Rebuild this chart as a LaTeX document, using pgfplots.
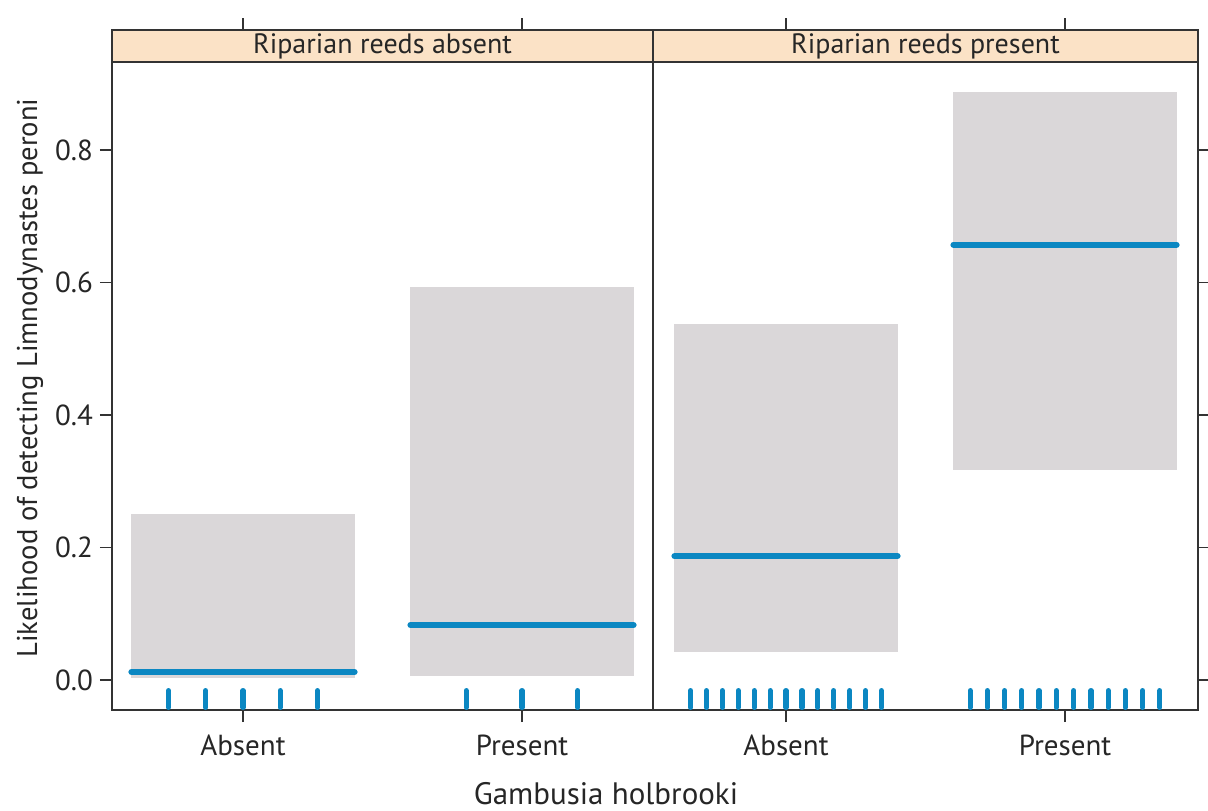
\documentclass[border=0pt]{standalone}
\usepackage{fontspec}
\setmainfont{PT Sans}
\usepackage{pgfplots}
\pgfplotsset{compat=1.18}
\definecolor{boxgray}{HTML}{DAD7D9}
\definecolor{stripc}{HTML}{FBE2C6}
\definecolor{blu}{HTML}{0B87C2}
\definecolor{axc}{HTML}{333333}

\pgfplotsset{
  panel/.style={
    scale only axis, height=324pt,
    ymin=-0.0453, ymax=0.9328,
    xtick={1,2}, xticklabels={Absent,Present},
    ytick={0,0.2,0.4,0.6,0.8},
    yticklabels={0.0,0.2,0.4,0.6,0.8},
    tick align=outside, major tick length=6pt,
    xtick pos=lower,
    axis line style={line width=0.7pt, color=axc},
    tick style={line width=0.6pt, color=axc},
    clip=false,
    ticklabel style={font=\fontsize{14.5}{16}\selectfont, text=black!85},
    xticklabel style={yshift=-3pt},
    /pgf/number format/assume math mode=true,
  },
  meanline/.style={blu, line width=3pt, line cap=round},
  rug/.style={only marks, mark=|, mark size=4.2pt, blu,
    mark options={line width=2.6pt, line cap=round}},
  box/.style={fill=boxgray, draw=none},
}

\begin{document}
\begin{tikzpicture}
\useasboundingbox (0,0) rectangle (604pt,405pt);

% Panel 1: Riparian reeds absent
\begin{axis}[panel, width=270.5pt, at={(56pt,50pt)}, anchor=south west,
  xmin=0.5305, xmax=2.4695, ytick pos=left]
  \addplot[box] coordinates {(0.6,0.003) (1.4,0.003) (1.4,0.250) (0.6,0.250)} -- cycle;
  \addplot[box] coordinates {(1.6,0.006) (2.4,0.006) (2.4,0.593) (1.6,0.593)} -- cycle;
  \addplot[meanline] coordinates {(0.6,0.012) (1.4,0.012)};
  \addplot[meanline] coordinates {(1.6,0.083) (2.4,0.083)};
  \addplot[rug] coordinates {(0.733,-0.0287) (0.866,-0.0287) (1.0,-0.0287) (1.133,-0.0287) (1.267,-0.0287)};
  \addplot[rug] coordinates {(1.8,-0.0287) (2.0,-0.0287) (2.2,-0.0287)};
  \draw[fill=stripc, line width=0.7pt, draw=axc] (rel axis cs:0,1) rectangle ([yshift=16pt]rel axis cs:1,1);
  \node[font=\fontsize{14}{16}\selectfont, text=black!85] at ([yshift=8pt]rel axis cs:0.5,1) {Riparian reeds absent};
  \draw[line width=0.6pt, axc] ([yshift=16pt]axis cs:1,0.9328) -- ([yshift=22pt]axis cs:1,0.9328);
  \draw[line width=0.6pt, axc] ([yshift=16pt]axis cs:2,0.9328) -- ([yshift=22pt]axis cs:2,0.9328);
\end{axis}

% Panel 2: Riparian reeds present
\begin{axis}[panel, width=272.5pt, at={(326.5pt,50pt)}, anchor=south west,
  xmin=0.5233, xmax=2.4767, ytick pos=right, yticklabels={}]
  \addplot[box] coordinates {(0.6,0.043) (1.4,0.043) (1.4,0.537) (0.6,0.537)} -- cycle;
  \addplot[box] coordinates {(1.6,0.317) (2.4,0.317) (2.4,0.8875) (1.6,0.8875)} -- cycle;
  \addplot[meanline] coordinates {(0.6,0.187) (1.4,0.187)};
  \addplot[meanline] coordinates {(1.6,0.657) (2.4,0.657)};
  \addplot[rug] coordinates {(0.658,-0.0287) (0.715,-0.0287) (0.772,-0.0287) (0.829,-0.0287) (0.886,-0.0287) (0.943,-0.0287) (1.0,-0.0287) (1.057,-0.0287) (1.114,-0.0287) (1.171,-0.0287) (1.228,-0.0287) (1.285,-0.0287) (1.342,-0.0287)};
  \addplot[rug] coordinates {(1.660,-0.0287) (1.722,-0.0287) (1.784,-0.0287) (1.845,-0.0287) (1.907,-0.0287) (1.969,-0.0287) (2.031,-0.0287) (2.093,-0.0287) (2.155,-0.0287) (2.216,-0.0287) (2.278,-0.0287) (2.340,-0.0287)};
  \draw[fill=stripc, line width=0.7pt, draw=axc] (rel axis cs:0,1) rectangle ([yshift=16pt]rel axis cs:1,1);
  \node[font=\fontsize{14}{16}\selectfont, text=black!85] at ([yshift=8pt]rel axis cs:0.5,1) {Riparian reeds present};
  \draw[line width=0.6pt, axc] ([yshift=16pt]axis cs:1,0.9328) -- ([yshift=22pt]axis cs:1,0.9328);
  \draw[line width=0.6pt, axc] ([yshift=16pt]axis cs:2,0.9328) -- ([yshift=22pt]axis cs:2,0.9328);
\end{axis}

\node[font=\fontsize{15.5}{18}\selectfont, text=black!85, anchor=base] at (303pt,3pt) {Gambusia holbrooki};
\node[font=\fontsize{14.3}{16}\selectfont, text=black!85, rotate=90] at (15pt,216pt) {Likelihood of detecting Limnodynastes peroni};
\end{tikzpicture}
\end{document}
